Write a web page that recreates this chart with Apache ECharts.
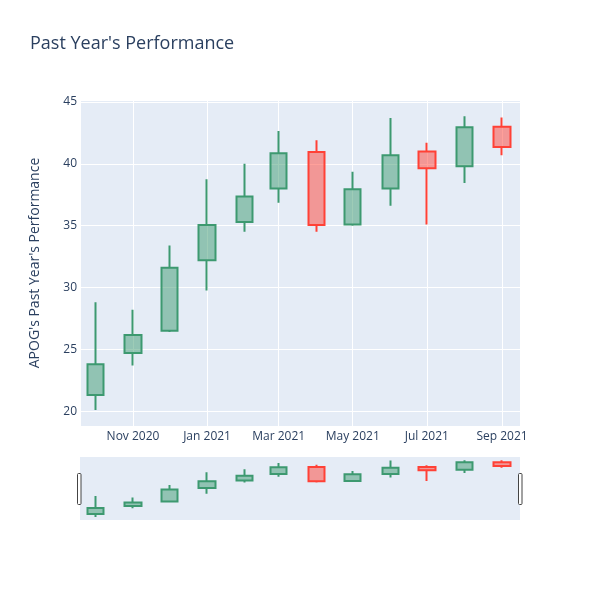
<!DOCTYPE html>
<html>
<head>
<meta charset="utf-8">
<script src="https://cdn.jsdelivr.net/npm/echarts@6/dist/echarts.min.js"></script>
<style>
  html, body { margin: 0; padding: 0; background: #fff; }
  #myChartMain { width: 600px; height: 600px; }
</style>
</head>
<body>
<div id="myChartMain"></div>
<script>
// monthly candles, values
var dates = ['2020-10-01', '2020-11-01', '2020-12-01', '2021-01-01', '2021-02-01', '2021-03-01',
             '2021-04-01', '2021-05-01', '2021-06-01', '2021-07-01', '2021-08-01', '2021-09-01'];
var opens  = [21.3, 24.7, 26.5, 32.2, 35.3, 38.0, 40.95, 35.1, 38.0, 41.0, 39.8, 43.0];
var closes = [23.8, 26.15, 31.6, 35.05, 37.35, 40.85, 35.05, 37.95, 40.7, 39.65, 42.95, 41.35];
var lows   = [20.1, 23.7, 26.4, 29.75, 34.5, 36.85, 34.5, 35.0, 36.6, 35.1, 38.45, 40.7];
var highs  = [28.8, 28.2, 33.4, 38.75, 40.0, 42.65, 41.9, 39.35, 43.7, 41.7, 43.85, 43.75];

var xMin = new Date(2020, 8, 18, 8).getTime();
var xMax = new Date(2021, 8, 15, 19).getTime();
var yMin = 18.8, yMax = 45.16;

var candles = [];
for (var i = 0; i < dates.length; i++) {
    candles.push([dates[i], opens[i], closes[i], lows[i], highs[i]]);
}

var candleStyle = {
    color: 'rgba(61,153,112,0.5)',
    color0: 'rgba(255,65,54,0.5)',
    borderColor: '#3D9970',
    borderColor0: '#FF4136',
    borderWidth: 2
};

var myChart = echarts.init(document.getElementById('myChartMain'));
var option = {
    animation: false,
    textStyle: { fontFamily: '"Open Sans", verdana, arial, sans-serif' },
    title: {
        text: "Past Year's Performance",
        left: 25,
        top: 30,
        textStyle: { fontSize: 18, fontWeight: 'normal', color: '#2a3f5f', fontFamily: '"Open Sans", verdana, arial, sans-serif' }
    },
    grid: [
        { left: 80, right: 80, top: 100, height: 326, show: true, backgroundColor: '#e5ecf6', borderWidth: 0 },
        { left: 80, right: 80, top: 457, height: 63, show: true, backgroundColor: '#e5ecf6', borderWidth: 0 }
    ],
    xAxis: [{
        type: 'time',
        gridIndex: 0,
        min: xMin,
        max: xMax,
        axisLine: { show: false },
        axisTick: { show: false },
        splitLine: { show: true, lineStyle: { color: '#fff', width: 1 } },
        axisLabel: {
            formatter: '{MMM} {yyyy}',
            color: '#2a3f5f',
            fontSize: 12,
            margin: 5,
            showMinLabel: false,
            showMaxLabel: false
        }
    }, {
        type: 'time',
        gridIndex: 1,
        min: xMin,
        max: xMax,
        show: false
    }],
    yAxis: [{
        type: 'value',
        gridIndex: 0,
        min: yMin,
        max: yMax,
        name: "APOG's Past Year's Performance",
        nameLocation: 'middle',
        nameGap: 38,
        nameTextStyle: { fontSize: 14, color: '#2a3f5f' },
        axisLine: { show: false },
        axisTick: { show: false },
        splitLine: { show: true, lineStyle: { color: '#fff', width: 1 } },
        axisLabel: {
            color: '#2a3f5f',
            fontSize: 12,
            margin: 3,
            showMinLabel: false,
            showMaxLabel: false
        }
    }, {
        type: 'value',
        gridIndex: 1,
        min: yMin,
        max: yMax,
        show: false
    }],
    series: [{
        name: 'APOG',
        type: 'candlestick',
        xAxisIndex: 0,
        yAxisIndex: 0,
        barWidth: 17,
        itemStyle: candleStyle,
        data: candles
    }, {
        name: 'APOG range',
        type: 'candlestick',
        xAxisIndex: 1,
        yAxisIndex: 1,
        barWidth: 17,
        itemStyle: candleStyle,
        data: candles,
        silent: true
    }],
    graphic: [
        { type: 'rect', shape: { x: 77.5, y: 473.5, width: 3.5, height: 31, r: 1 }, style: { fill: '#fff', stroke: '#444', lineWidth: 1 } },
        { type: 'rect', shape: { x: 518.5, y: 473.5, width: 3.5, height: 31, r: 1 }, style: { fill: '#fff', stroke: '#444', lineWidth: 1 } }
    ]
};

myChart.setOption(option);
</script>
</body>
</html>
